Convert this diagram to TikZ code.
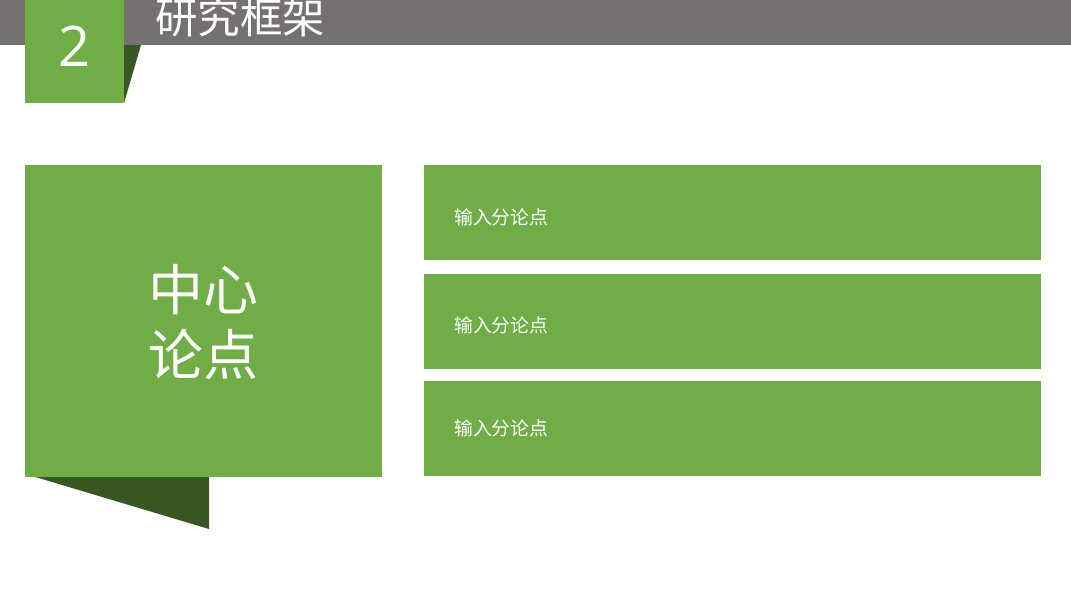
\documentclass[tikz,border=0pt]{standalone}
\usepackage{fontspec}
\newfontfamily\cjk{Noto Sans CJK SC}
\newfontfamily\latinf{Open Sans}
\definecolor{barGray}{HTML}{767171}
\definecolor{leafGreen}{HTML}{70AD47}
\definecolor{darkGreen}{HTML}{385723}
\begin{document}
\begin{tikzpicture}[x=1pt,y=-1pt,
  greenbox/.style={fill=leafGreen,draw=none},
  shadow/.style={fill=darkGreen,draw=none},
  pointtext/.style={text=white,font=\cjk\fontsize{18.8}{20}\selectfont,anchor=west,inner sep=0pt}]
\useasboundingbox (0,0) rectangle (1071,598);
\fill[barGray] (0,0) rectangle (1071,45);
\begin{scope}
\clip (0,0) rectangle (1071,598);
\node[text=white,font=\cjk\fontsize{42.5}{44}\selectfont,anchor=west,inner sep=0pt] (title) at (155,17) {研究框架};
\end{scope}
\fill[shadow] (124,45) -- (141,45) -- (124,103) -- cycle;
\fill[greenbox] (25,0) rectangle (124,103);
\node[text=white,font=\latinf\fontsize{56}{60}\selectfont,inner sep=0pt] (num) at (74.5,46) {2};
% center box
\fill[shadow] (32,476) -- (209,476) -- (209,529) -- cycle;
\fill[greenbox] (25,165) rectangle (382,477);
\node[text=white,font=\cjk\fontsize{55}{65}\selectfont,align=center,inner sep=0pt] (center) at (203,322) {中心\\论点};
% right boxes
\fill[greenbox] (424,165) rectangle (1041,260);
\fill[greenbox] (424,274) rectangle (1041,369);
\fill[greenbox] (424,381) rectangle (1041,476);
\node[pointtext] (p1) at (454,217) {输入分论点};
\node[pointtext] (p2) at (454,325) {输入分论点};
\node[pointtext] (p3) at (454,428) {输入分论点};
\end{tikzpicture}
\end{document}
